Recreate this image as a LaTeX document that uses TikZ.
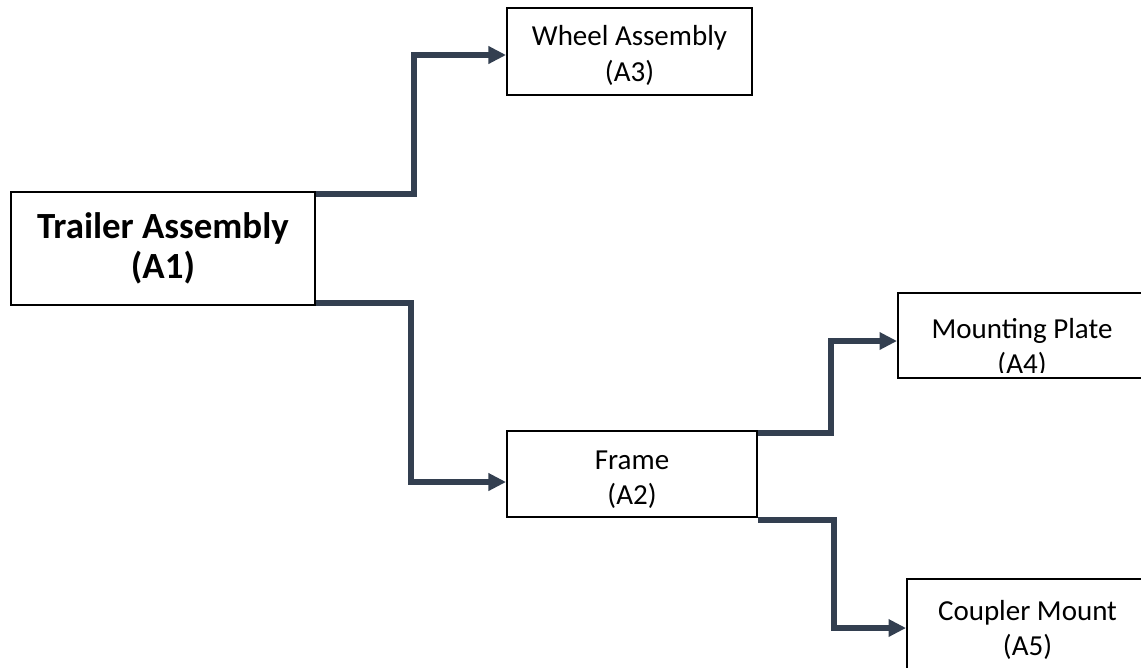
\documentclass[tikz,border=0pt]{standalone}
\usepackage{fontspec}
\setmainfont{Carlito}
\usetikzlibrary{arrows.meta,calc}
\definecolor{linkcol}{RGB}{51,63,80}
\begin{document}
\begin{tikzpicture}[x=0.02cm,y=-0.02cm,
  part/.style={draw,line width=1.1pt,inner sep=0pt},
  txt/.style={align=center,inner sep=0pt,font=\fontsize{16.5}{20}\selectfont},
  link/.style={draw=linkcol,line width=3.4pt,-{Triangle[length=10pt,width=9.5pt]}}]
  \useasboundingbox[fill=white] (0,0) rectangle (1141,667);
  \node[part,minimum width=6.08cm,minimum height=2.26cm] (a1) at (163,248.5) {};
  \node[txt,font=\fontsize{21}{23}\selectfont\bfseries] (a1t) at (a1) {Trailer Assembly\\(A1)};
  \node[part,minimum width=4.9cm,minimum height=1.74cm] (a3) at (629.5,51.5) {};
  \node[txt] (a3t) at ($(a3)+(0,4)$) {Wheel Assembly\\(A3)};
  \node[part,minimum width=5.0cm,minimum height=1.72cm] (a2) at (632,474) {};
  \node[txt] (a2t) at ($(a2)+(0,6)$) {Frame\\(A2)};
  \node[part,minimum width=5.04cm,minimum height=1.70cm] (a4) at (1024,335.5) {};
  \begin{scope}
    \clip (a4.north west) rectangle ($(a4.south east)+(0,-6)$);
    \node[txt] (a4t) at (1022,348) {Mounting Plate\\(A4)};
  \end{scope}
  \node[part,minimum width=4.86cm,minimum height=1.92cm] (a5) at (1028.5,627) {};
  \node[txt] (a5t) at ($(a5)+(-1,3)$) {Coupler Mount\\(A5)};
  \draw[link] ($(a1.north east)+(0,3)$) -- ++(98,0) |- ($(a3.west)+(0,3.5)$);
  \draw[link] ($(a1.south east)+(0,-3)$) -- ++(95,0) |- ($(a2.west)+(0,8)$);
  \draw[link] ($(a2.north east)+(0,3)$) -- ++(73,0) |- ($(a4.west)+(0,5.5)$);
  \draw[link] ($(a2.south east)+(0,2)$) -- ++(76,0) |- ($(a5.west)+(0,1)$);
\end{tikzpicture}
\end{document}
